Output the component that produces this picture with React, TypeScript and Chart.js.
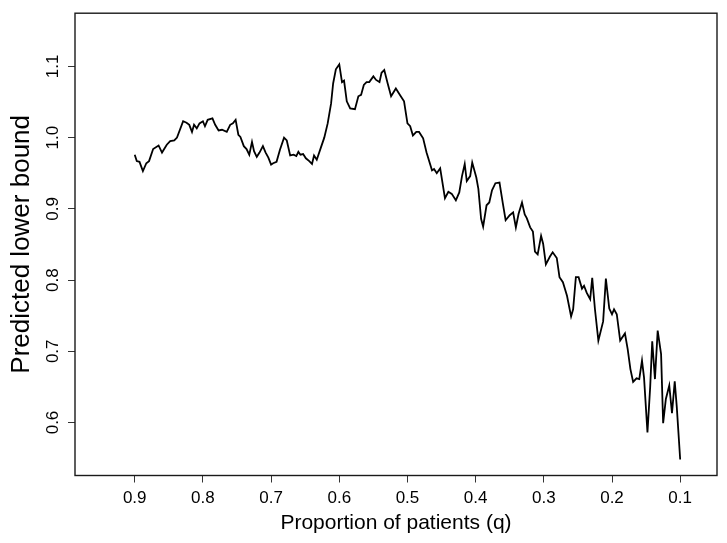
import React, { useEffect, useRef } from "react";
import { Chart, registerables } from "chart.js";

Chart.register(...registerables);

// Proportion of patients (q)
const q = [
  0.900, 0.897, 0.893, 0.888, 0.883, 0.879, 0.873, 0.865, 0.860, 0.853,
  0.848, 0.842, 0.838, 0.829, 0.824, 0.820, 0.816, 0.813, 0.809, 0.805,
  0.800, 0.797, 0.793, 0.786, 0.782, 0.777, 0.772, 0.765, 0.760, 0.756,
  0.752, 0.748, 0.745, 0.740, 0.736, 0.732, 0.728, 0.725, 0.721, 0.717,
  0.712, 0.708, 0.704, 0.700, 0.697, 0.692, 0.687, 0.681, 0.677, 0.672,
  0.667, 0.663, 0.660, 0.657, 0.653, 0.649, 0.644, 0.640, 0.637, 0.633,
  0.627, 0.622, 0.617, 0.612, 0.609, 0.605, 0.600, 0.596, 0.593, 0.589,
  0.584, 0.577, 0.572, 0.568, 0.564, 0.560, 0.556, 0.550, 0.546, 0.541,
  0.538, 0.534, 0.529, 0.524, 0.517, 0.511, 0.505, 0.500, 0.496, 0.492,
  0.487, 0.483, 0.477, 0.472, 0.464, 0.461, 0.457, 0.452, 0.445, 0.440,
  0.435, 0.429, 0.424, 0.420, 0.416, 0.413, 0.408, 0.405, 0.399, 0.396,
  0.392, 0.389, 0.384, 0.380, 0.376, 0.371, 0.365, 0.360, 0.356, 0.350,
  0.345, 0.341, 0.337, 0.332, 0.328, 0.325, 0.320, 0.316, 0.313, 0.309,
  0.304, 0.301, 0.297, 0.291, 0.287, 0.281, 0.277, 0.272, 0.266, 0.260,
  0.257, 0.253, 0.249, 0.244, 0.241, 0.237, 0.232, 0.229, 0.225, 0.220,
  0.213, 0.209, 0.204, 0.200, 0.197, 0.193, 0.188, 0.181, 0.177, 0.173,
  0.169, 0.164, 0.160, 0.156, 0.153, 0.148, 0.144, 0.141, 0.137, 0.133,
  0.128, 0.125, 0.121, 0.116, 0.112, 0.108, 0.105, 0.100,
];

// Predicted lower bound
const lowerBound = [
  0.976, 0.967, 0.966, 0.953, 0.964, 0.967, 0.984, 0.989, 0.979, 0.990,
  0.995, 0.996, 1.000, 1.023, 1.021, 1.018, 1.008, 1.018, 1.013, 1.020,
  1.023, 1.016, 1.025, 1.027, 1.018, 1.010, 1.011, 1.008, 1.018, 1.020,
  1.025, 1.004, 1.001, 0.988, 0.984, 0.976, 0.994, 0.981, 0.973, 0.979,
  0.988, 0.979, 0.972, 0.962, 0.964, 0.966, 0.983, 1.000, 0.996, 0.975,
  0.976, 0.974, 0.980, 0.976, 0.977, 0.971, 0.967, 0.963, 0.975, 0.969,
  0.986, 1.000, 1.020, 1.048, 1.076, 1.096, 1.103, 1.078, 1.080, 1.051,
  1.041, 1.040, 1.058, 1.060, 1.074, 1.078, 1.078, 1.086, 1.081, 1.078,
  1.091, 1.095, 1.076, 1.058, 1.069, 1.060, 1.051, 1.020, 1.016, 1.003,
  1.008, 1.008, 0.999, 0.979, 0.954, 0.956, 0.950, 0.957, 0.915, 0.924,
  0.921, 0.912, 0.923, 0.946, 0.963, 0.939, 0.946, 0.965, 0.944, 0.928,
  0.886, 0.875, 0.905, 0.909, 0.926, 0.936, 0.937, 0.907, 0.884, 0.891,
  0.895, 0.874, 0.893, 0.909, 0.892, 0.887, 0.874, 0.868, 0.840, 0.836,
  0.862, 0.851, 0.822, 0.833, 0.839, 0.831, 0.804, 0.797, 0.778, 0.749,
  0.759, 0.804, 0.804, 0.788, 0.792, 0.782, 0.773, 0.803, 0.759, 0.715,
  0.742, 0.802, 0.760, 0.752, 0.759, 0.752, 0.715, 0.725, 0.703, 0.675,
  0.657, 0.662, 0.661, 0.687, 0.663, 0.586, 0.650, 0.714, 0.661, 0.729,
  0.696, 0.599, 0.633, 0.652, 0.613, 0.658, 0.622, 0.548,
];

const xTickValues = [0.9, 0.8, 0.7, 0.6, 0.5, 0.4, 0.3, 0.2, 0.1];
const yTickValues = [0.6, 0.7, 0.8, 0.9, 1.0, 1.1];
const xTitle = "Proportion of patients (q)";
const yTitle = "Predicted lower bound";

const FONT = "'Liberation Sans', Arial, Helvetica, sans-serif";

export default function App() {
  const canvasRef = useRef<HTMLCanvasElement>(null);

  useEffect(() => {
    document.body.style.margin = "0";
    const canvas = canvasRef.current;
    if (!canvas) return;

    const framePlugin = {
      id: "frame",
      afterDatasetsDraw(chart: any) {
        const { ctx, chartArea } = chart;
        ctx.save();
        ctx.strokeStyle = "#1a1a1a";
        ctx.lineWidth = 1.4;
        ctx.strokeRect(
          chartArea.left,
          chartArea.top,
          chartArea.right - chartArea.left,
          chartArea.bottom - chartArea.top
        );
        ctx.restore();
      },
    };

    const chart = new Chart(canvas, {
      type: "line",
      data: {
        datasets: [
          {
            data: q.map((v, i) => ({ x: v, y: lowerBound[i] })),
            borderColor: "#000000",
            borderWidth: 1.8,
            pointRadius: 0,
            fill: false,
            tension: 0,
          },
        ],
      },
      options: {
        responsive: false,
        animation: false,
        layout: { padding: { left: 0, right: 10, top: 9, bottom: 0 } },
        plugins: {
          legend: { display: false },
          tooltip: { enabled: false },
        },
        scales: {
          x: {
            type: "linear",
            reverse: true,
            min: 0.046,
            max: 0.9876,
            afterBuildTicks: (s: any) => {
              s.ticks = xTickValues.map((v) => ({ value: v }));
            },
            afterFit: (s: any) => {
              s.height = 67.5;
            },
            border: { display: false },
            grid: {
              display: true,
              drawOnChartArea: false,
              drawTicks: true,
              tickLength: 7,
              color: "#333333",
              lineWidth: 1,
            },
            ticks: {
              color: "#000000",
              font: { family: FONT, size: 17 },
              padding: 6,
              maxRotation: 0,
              minRotation: 0,
              autoSkip: false,
              callback: (v: any) => Number(v).toFixed(1),
            },
            title: {
              display: true,
              text: xTitle,
              color: "#000000",
              font: { family: FONT, size: 21 },
              padding: { top: 7, bottom: 7 },
            },
          },
          y: {
            type: "linear",
            min: 0.5256,
            max: 1.1747,
            afterBuildTicks: (s: any) => {
              s.ticks = yTickValues.map((v) => ({ value: v }));
            },
            afterFit: (s: any) => {
              s.width = 75;
            },
            border: { display: false },
            grid: {
              display: true,
              drawOnChartArea: false,
              drawTicks: true,
              tickLength: 7,
              color: "#333333",
              lineWidth: 1,
            },
            ticks: {
              color: "#000000",
              font: { family: FONT, size: 17 },
              padding: 3,
              minRotation: 90,
              maxRotation: 90,
              crossAlign: "center",
              autoSkip: false,
              callback: (v: any) => Number(v).toFixed(1),
            },
            title: {
              display: true,
              text: yTitle,
              color: "#000000",
              font: { family: FONT, size: 26 },
              padding: { top: 6, bottom: 0 },
            },
          },
        },
      },
      plugins: [framePlugin],
    });

    return () => {
      chart.destroy();
    };
  }, []);

  return (
    <div
      style={{
        position: "fixed",
        left: 0,
        top: 0,
        width: 727,
        height: 543,
        background: "#ffffff",
      }}
    >
      <canvas ref={canvasRef} width={727} height={543} />
    </div>
  );
}
